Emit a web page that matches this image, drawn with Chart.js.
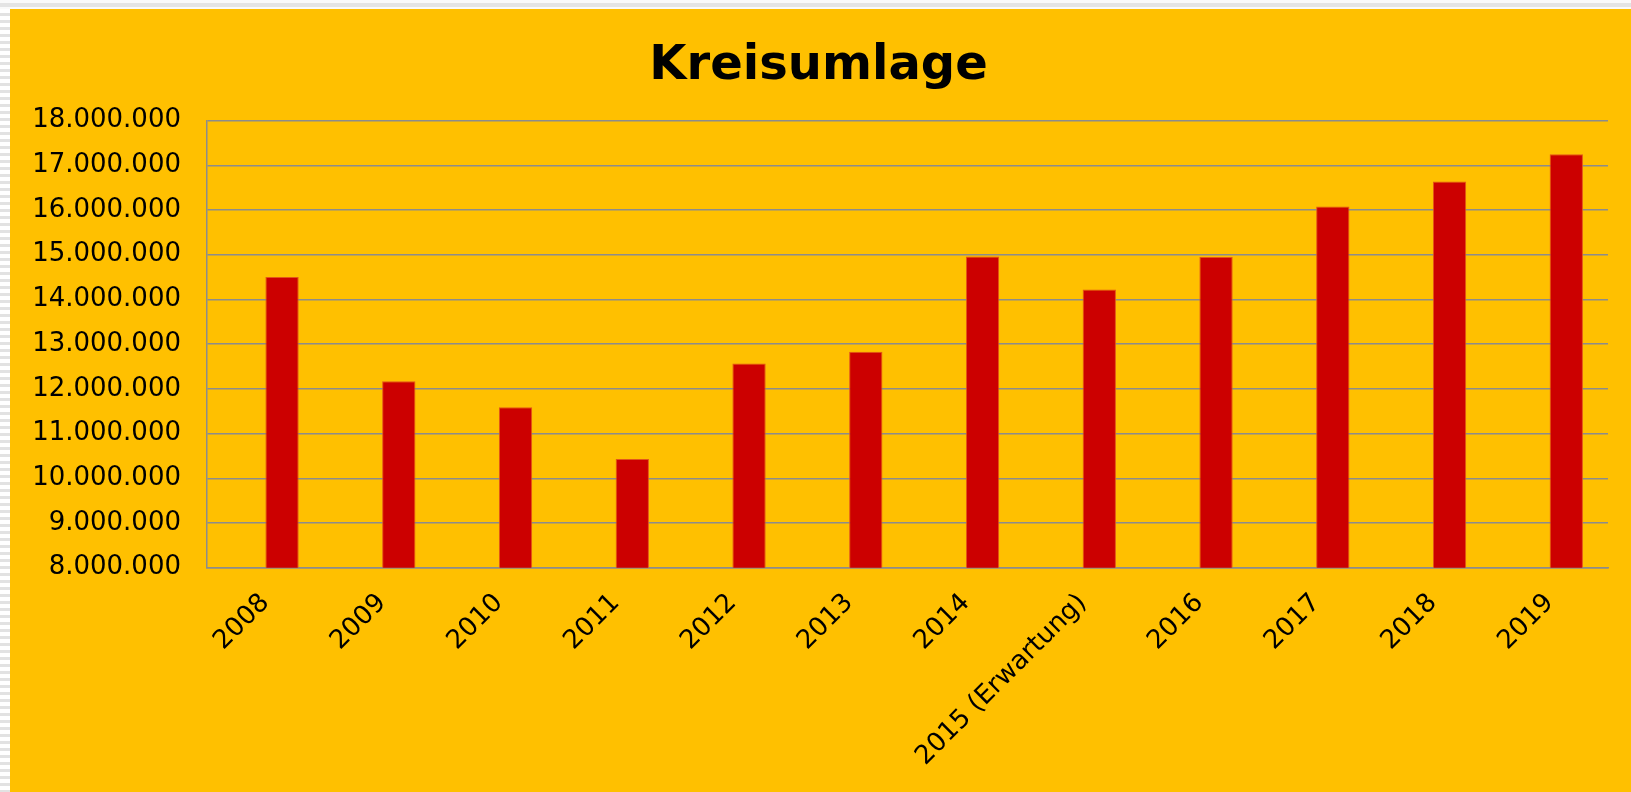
<!DOCTYPE html>
<html>
<head>
<meta charset="utf-8">
<script src="https://cdn.jsdelivr.net/npm/chart.js@4/dist/chart.umd.min.js"></script>
<style>
  html, body { margin: 0; padding: 0; background: #fff; }
  body { width: 1631px; height: 792px; position: relative; overflow: hidden; }
  #topStrip {
    position: absolute; left: 0; top: 0; width: 1631px; height: 9px;
    background: linear-gradient(#fafafa 0, #fafafa 3px, #e4e4e4 3px, #e4e4e4 7px, #fafafa 7px);
  }
  #leftStrip {
    position: absolute; left: 0; top: 9px; width: 10px; height: 783px;
    background: repeating-linear-gradient(#ffffff 0, #ffffff 4px, #e2e2e2 4px, #e2e2e2 7px);
  }
  #box { position: absolute; left: 10px; top: 9px; width: 1621px; height: 783px; background: #ffc000; }
</style>
</head>
<body>
<div id="topStrip"></div>
<div id="leftStrip"></div>
<div id="box"><canvas id="kreisChart" width="1621" height="783"></canvas></div>
<script>
// Kreisumlage per year (EUR)
const years = ['2008', '2009', '2010', '2011', '2012', '2013', '2014',
  '2015 (Erwartung)', '2016', '2017', '2018', '2019'];
const umlage = [14500000, 12170000, 11590000, 10430000, 12570000, 12830000,
  14960000, 14220000, 14950000, 16080000, 16640000, 17250000];
// the empty first series from the original sheet
const leer = [null, null, null, null, null, null, null, null, null, null, null, null];

const yMin = 8000000;
const yMax = 18000000;
const yStep = 1000000;

const font = "'DejaVu Sans', Verdana, sans-serif";

function punkte(v) {
  return String(v).replace(/\B(?=(\d{3})+(?!\d))/g, '.');
}

const ctx = document.getElementById('kreisChart').getContext('2d');
new Chart(ctx, {
  type: 'bar',
  data: {
    labels: years,
    datasets: [
      {
        data: leer,
        backgroundColor: '#8c8c8c',
        categoryPercentage: 0.571,
        barPercentage: 1
      },
      {
        data: umlage,
        backgroundColor: '#cc0000',
        borderColor: '#e2561a',
        borderWidth: 1,
        categoryPercentage: 0.571,
        barPercentage: 1
      }
    ]
  },
  options: {
    responsive: false,
    animation: false,
    layout: { autoPadding: false, padding: { left: 19, right: 23, top: 0, bottom: 0 } },
    plugins: {
      legend: { display: false },
      tooltip: { enabled: false },
      title: {
        display: true,
        text: 'Kreisumlage',
        color: '#000',
        font: { family: font, size: 48, weight: 'bold' },
        padding: { top: 29, bottom: 25 }
      }
    },
    scales: {
      x: {
        grid: { display: false, drawTicks: false },
        border: { display: true, color: '#8c8c8c', width: 1.5 },
        afterFit: (scale) => { scale.paddingLeft = 0; },
        ticks: {
          autoSkip: false,
          minRotation: 45,
          maxRotation: 45,
          padding: 20,
          color: '#000',
          font: { family: font, size: 26 }
        }
      },
      y: {
        min: yMin,
        max: yMax,
        grid: { color: '#8c8c8c', lineWidth: 1.5, drawTicks: false },
        border: { display: true, color: '#8c8c8c', width: 1.5 },
        afterFit: (scale) => { scale.width = 178; },
        ticks: {
          stepSize: yStep,
          padding: 26,
          color: '#000',
          font: { family: font, size: 26 },
          callback: (v) => punkte(v)
        }
      }
    }
  }
});
</script>
</body>
</html>
